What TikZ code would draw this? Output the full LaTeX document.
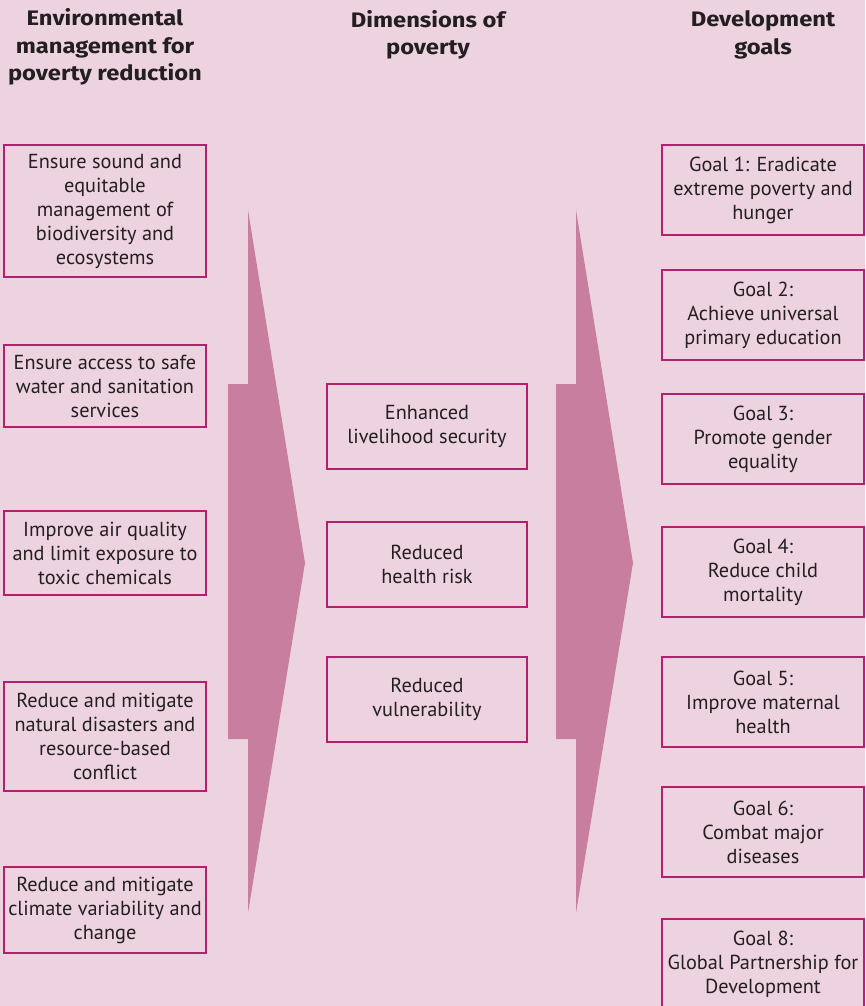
\documentclass[tikz,border=0pt]{standalone}
\usepackage{fontspec}
\setmainfont{PT Sans}
\newfontfamily\headfont[FakeStretch=1.13]{Fira Sans}
\definecolor{bgpink}{RGB}{237,211,223}
\definecolor{arrowpink}{RGB}{200,126,159}
\definecolor{boxline}{RGB}{178,32,112}
\definecolor{txt}{RGB}{35,31,32}
\begin{document}
\begin{tikzpicture}[x=1pt,y=-1pt,
  box/.style={draw=boxline, line width=1.3pt, inner sep=0pt, align=center,
    text=txt, font=\fontsize{20.3}{24}\selectfont},
  lbox/.style={box, minimum width=202pt},
  mbox/.style={box, minimum width=200pt, minimum height=85pt},
  gbox/.style={box, minimum width=202pt, minimum height=90pt},
  head/.style={align=center, inner sep=0pt, text=txt,
    font=\headfont\fontsize{21}{27.5}\selectfont\bfseries}]
\fill[bgpink] (0,0) rectangle (865,1006);
\useasboundingbox (0,0) rectangle (865,1006);
% big arrows
\fill[arrowpink] (248,210) -- (305,563) -- (248,913) -- (248,739) -- (228,739) -- (228,384) -- (248,384) -- cycle;
\fill[arrowpink] (576,210) -- (633,563) -- (576,913) -- (576,739) -- (556,739) -- (556,384) -- (576,384) -- cycle;
% headers
\node[head] (h1) at (105,47) {Environmental\\management for\\poverty reduction};
\node[head] (h2) at (428,35) {Dimensions of\\poverty};
\node[head] (h3) at (763,35) {Development\\goals};
% left column
\node[lbox, minimum height=132pt] (l1) at (105,211) {Ensure sound and\\equitable\\management of\\biodiversity and\\ecosystems};
\node[lbox, minimum height=82pt] (l2) at (105,386) {Ensure access to safe\\water and sanitation\\services};
\node[lbox, minimum height=84pt] (l3) at (105,553) {Improve air quality\\and limit exposure to\\toxic chemicals};
\node[lbox, minimum height=109pt] (l4) at (105,736.5) {Reduce and mitigate\\natural disasters and\\resource-based\\conflict};
\node[lbox, minimum height=86pt] (l5) at (105,910) {Reduce and mitigate\\climate variability and\\change};
% middle column
\node[mbox] (m1) at (427,426.5) {Enhanced\\livelihood security};
\node[mbox] (m2) at (427,564.5) {Reduced\\health risk};
\node[mbox] (m3) at (427,699.5) {Reduced\\vulnerability};
% right column
\node[gbox] (g1) at (763,190) {Goal 1: Eradicate\\extreme poverty and\\hunger};
\node[gbox] (g2) at (763,315) {Goal 2:\\Achieve universal\\primary education};
\node[gbox] (g3) at (763,439) {Goal 3:\\Promote gender\\equality};
\node[gbox] (g4) at (763,572) {Goal 4:\\Reduce child\\mortality};
\node[gbox] (g5) at (763,702) {Goal 5:\\Improve maternal\\health};
\node[gbox] (g6) at (763,832) {Goal 6:\\Combat major\\diseases};
\node[gbox] (g8) at (763,964) {Goal 8:\\Global Partnership for\\Development};
\end{tikzpicture}
\end{document}
